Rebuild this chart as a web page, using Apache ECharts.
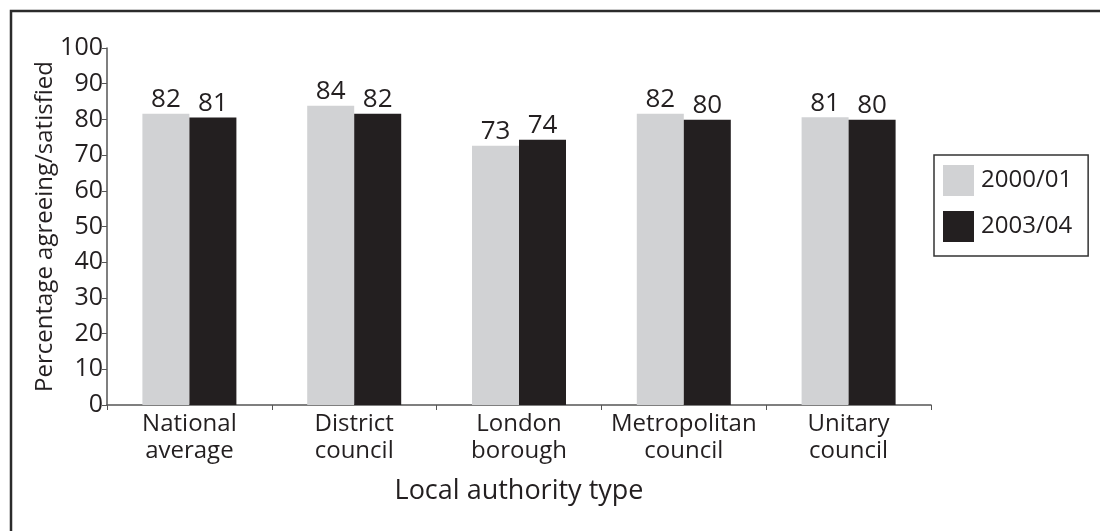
<!DOCTYPE html>
<html>
<head>
<meta charset="utf-8">
<script src="https://cdn.jsdelivr.net/npm/echarts@6/dist/echarts.min.js"></script>
<style>html,body{margin:0;padding:0;background:#fff}#c{width:1100px;height:531px}</style>
</head>
<body>
<div id="c"></div>
<script>
var categories = ['National\naverage', 'District\ncouncil', 'London\nborough', 'Metropolitan\ncouncil', 'Unitary\ncouncil'];
var series2000 = [81.6, 83.8, 72.6, 81.6, 80.6];
var series2003 = [80.5, 81.6, 74.3, 79.9, 79.9];
var labels2000 = [82, 84, 73, 82, 81];
var labels2003 = [81, 82, 74, 80, 80];
var yTicks = [0, 10, 20, 30, 40, 50, 60, 70, 80, 90, 100];

var FONT = '"Open Sans", "Noto Sans", sans-serif';
var chart = echarts.init(document.getElementById('c'));
chart.setOption({
  animation: false,
  backgroundColor: '#fff',
  textStyle: { fontFamily: FONT, color: '#231f20' },
  grid: { left: 107, right: 169, top: 48, bottom: 126 },
  graphic: [{
    type: 'polyline',
    shape: { points: [[11, 540], [11, 11], [1110, 11]] },
    style: { stroke: '#2b2b2b', lineWidth: 2.5, fill: null }
  }],
  legend: {
    orient: 'vertical',
    left: 934, top: 155,
    width: 154,
    padding: [10, 16, 14, 9],
    itemWidth: 31, itemHeight: 31, itemGap: 15,
    borderColor: '#333', borderWidth: 1.5,
    icon: 'rect',
    textStyle: { fontSize: 24, fontFamily: FONT, color: '#231f20', padding: [0, 0, 0, 2] },
    data: ['2000/01', '2003/04']
  },
  xAxis: {
    type: 'category',
    data: categories,
    name: 'Local authority type',
    nameLocation: 'middle',
    nameGap: 73,
    nameTextStyle: { fontSize: 27, fontFamily: FONT, color: '#231f20' },
    axisLine: { lineStyle: { color: '#555', width: 1.5 } },
    axisTick: { show: true, length: 5, lineStyle: { color: '#555' } },
    axisLabel: { fontSize: 24, lineHeight: 27, margin: 6, color: '#231f20', fontFamily: FONT, interval: 0 }
  },
  yAxis: {
    type: 'value',
    min: 0, max: 100, interval: 10,
    name: 'Percentage agreeing/satisfied',
    nameLocation: 'middle',
    nameGap: 50,
    nameMoveOverlap: false,
    nameTextStyle: { fontSize: 24, fontFamily: FONT, color: '#231f20' },
    axisLine: { show: true, lineStyle: { color: '#555', width: 1.5 } },
    axisTick: { show: true, length: 5, lineStyle: { color: '#555' } },
    splitLine: { show: false },
    axisLabel: {
      fontSize: 25, margin: 4, color: '#231f20', fontFamily: FONT,
      formatter: function (v) { return yTicks.indexOf(v) >= 0 ? String(v) : ''; }
    }
  },
  series: [{
    name: '2000/01', type: 'bar', data: series2000,
    barWidth: 47, barGap: '0%',
    itemStyle: { color: '#d1d2d4' },
    label: { show: true, position: 'top', distance: 1, fontSize: 26, color: '#231f20', fontFamily: FONT,
      formatter: function (p) { return labels2000[p.dataIndex]; } }
  }, {
    name: '2003/04', type: 'bar', data: series2003,
    barWidth: 47, barGap: '0%',
    itemStyle: { color: '#231f20' },
    label: { show: true, position: 'top', distance: 1, fontSize: 26, color: '#231f20', fontFamily: FONT,
      formatter: function (p) { return labels2003[p.dataIndex]; } }
  }]
});
</script>
</body>
</html>
